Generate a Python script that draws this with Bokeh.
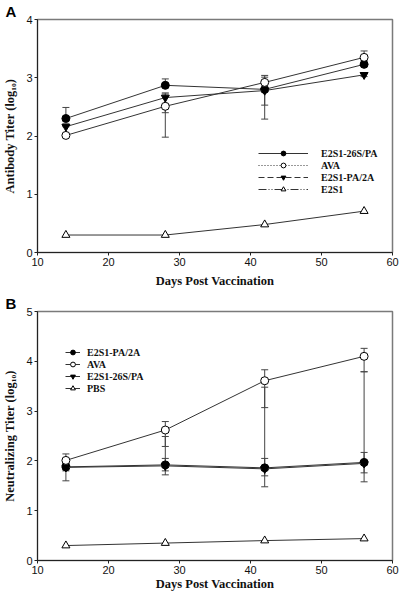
from bokeh.plotting import figure
from bokeh.layouts import column
from bokeh.models import (Whisker, ColumnDataSource, Legend, LegendItem,
                          TeeHead, FixedTicker, Range1d)
from bokeh.embed import file_html
from bokeh.resources import INLINE

days = [14, 28, 42, 56]

# ---- Panel A : antibody titer ----
a_names = ["E2S1-26S/PA", "AVA", "E2S1-PA/2A", "E2S1"]
a_26s = [2.30, 2.87, 2.80, 3.23]
a_26s_lo = [2.30, 2.87, 2.53, 3.23]
a_26s_hi = [2.49, 2.98, 3.01, 3.23]
a_ava = [2.01, 2.51, 2.92, 3.35]
a_ava_lo = [1.98, 1.98, 2.80, 3.30]
a_ava_hi = [2.03, 2.72, 3.04, 3.46]
a_pa2a = [2.16, 2.66, 2.78, 3.05]
a_pa2a_lo = [2.16, 2.40, 2.29, 3.02]
a_pa2a_hi = [2.21, 2.74, 2.80, 3.08]
a_e2s1 = [0.30, 0.30, 0.48, 0.71]

# ---- Panel B : neutralizing titer ----
b_names = ["E2S1-PA/2A", "AVA", "E2S1-26S/PA", "PBS"]
b_pa2a = [1.88, 1.92, 1.86, 1.97]
b_pa2a_lo = [1.60, 1.72, 1.48, 1.58]
b_pa2a_hi = [2.02, 2.05, 2.05, 2.17]
b_ava = [2.01, 2.62, 3.61, 4.10]
b_ava_lo = [1.95, 2.29, 3.07, 3.79]
b_ava_hi = [2.14, 2.79, 3.83, 4.26]
b_26s = [1.87, 1.90, 1.84, 1.95]
b_26s_lo = [1.80, 1.80, 1.70, 1.76]
b_26s_hi = [1.95, 2.49, 3.48, 3.79]
b_pbs = [0.30, 0.35, 0.40, 0.44]

x_ticks = [10, 20, 30, 40, 50, 60]

SERIF = "Liberation Serif"
SANS = "Liberation Sans"
LINE = "#333333"
AX = "#222222"
W = 400
BL, BR = 32, 8


def make_fig(height, ymax, ylabel, letter, border_bottom, label_standoff):
    p = figure(width=W, height=height, output_backend="svg", toolbar_location=None,
               x_range=Range1d(10, 60), y_range=Range1d(0, ymax),
               min_border_left=BL, min_border_right=BR,
               min_border_top=0, min_border_bottom=border_bottom,
               title=letter)
    p.title.text_font = SANS
    p.title.text_font_style = "bold"
    p.title.text_font_size = "15px"
    p.title.text_color = "black"
    p.title.align = "left"
    p.title.offset = -BL
    p.title.standoff = 0
    p.xgrid.visible = False
    p.ygrid.visible = False
    p.outline_line_color = "#7a7a7a"
    p.outline_line_width = 1.5
    p.xaxis.ticker = FixedTicker(ticks=x_ticks)
    p.yaxis.ticker = FixedTicker(ticks=list(range(0, ymax + 1)))
    for ax in (p.xaxis, p.yaxis):
        ax.axis_line_color = AX
        ax.major_tick_line_color = AX
        ax.major_tick_out = 3
        ax.major_tick_in = 0
        ax.minor_tick_line_color = None
        ax.major_label_text_font = SANS
        ax.major_label_text_font_size = "11px"
        ax.major_label_text_color = "#111111"
        ax.axis_label_text_font = SERIF
        ax.axis_label_text_font_style = "bold"
        ax.axis_label_text_font_size = "12.5px"
        ax.axis_label_text_color = "#111111"
        ax.major_label_standoff = 2
    p.xaxis.axis_label = "Days Post Vaccination"
    p.xaxis.axis_label_standoff = label_standoff
    p.yaxis.axis_label = ylabel
    p.yaxis.axis_label_standoff = 6
    return p


def add_series(p, y, lo, hi, marker, fill):
    src = ColumnDataSource(dict(x=days, y=y, lo=lo if lo else y, hi=hi if hi else y))
    p.line("x", "y", source=src, line_color=LINE, line_width=1)
    if lo is not None:
        w = Whisker(base="x", lower="lo", upper="hi", source=src, line_color="#444444",
                    line_width=1,
                    upper_head=TeeHead(size=7, line_color="#444444", line_width=1),
                    lower_head=TeeHead(size=7, line_color="#444444", line_width=1))
        p.add_layout(w)
    r = p.scatter("x", "y", source=src, marker=marker, size=8, fill_color=fill,
                  line_color="black", line_width=1)
    return r


def nan_line(p, dash):
    return p.line([float("nan")], [float("nan")], line_color=LINE, line_width=1, line_dash=dash)


def style_legend(lg, glyph_w, standoff):
    lg.glyph_width = glyph_w
    lg.glyph_height = 12
    lg.label_height = 12
    lg.label_standoff = standoff
    lg.label_text_font = SERIF
    lg.label_text_font_style = "bold"
    lg.label_text_font_size = "10px"
    lg.label_text_color = "#111111"
    lg.spacing = 0
    lg.padding = 0
    lg.margin = 0
    lg.border_line_alpha = 0
    lg.background_fill_alpha = 0


# ---------- Figure A ----------
pa = make_fig(292, 4, "Antibody Titer (log\u2081\u2080)", "A", 40, 5)
ra1 = add_series(pa, a_26s, a_26s_lo, a_26s_hi, "circle", "black")
ra2 = add_series(pa, a_ava, a_ava_lo, a_ava_hi, "circle", "white")
ra3 = add_series(pa, a_pa2a, a_pa2a_lo, a_pa2a_hi, "inverted_triangle", "black")
ra4 = add_series(pa, a_e2s1, None, None, "triangle", "white")
la = Legend(items=[
    LegendItem(label=a_names[0], renderers=[nan_line(pa, "solid"), ra1]),
    LegendItem(label=a_names[1], renderers=[nan_line(pa, "1 2"), ra2]),
    LegendItem(label=a_names[2], renderers=[nan_line(pa, "6 3"), ra3]),
    LegendItem(label=a_names[3], renderers=[nan_line(pa, "8 2 1 2 1 2"), ra4]),
], location=(221, 57))
style_legend(la, 50, 13)
pa.add_layout(la)

# ---------- Figure B ----------
pb = make_fig(301, 5, "Neutralizing Titer (log\u2081\u2080)", "B", 31, 0)
rb1 = add_series(pb, b_pa2a, b_pa2a_lo, b_pa2a_hi, "circle", "black")
rb3 = add_series(pb, b_26s, b_26s_lo, b_26s_hi, "inverted_triangle", "black")
rb2 = add_series(pb, b_ava, b_ava_lo, b_ava_hi, "circle", "white")
rb4 = add_series(pb, b_pbs, None, None, "triangle", "white")
lb = Legend(items=[
    LegendItem(label=b_names[0], renderers=[nan_line(pb, "solid"), rb1]),
    LegendItem(label=b_names[1], renderers=[nan_line(pb, "solid"), rb2]),
    LegendItem(label=b_names[2], renderers=[nan_line(pb, "solid"), rb3]),
    LegendItem(label=b_names[3], renderers=[nan_line(pb, "solid"), rb4]),
], location=(28, 166))
style_legend(lb, 15, 7)
pb.add_layout(lb)

layout = column(pa, pb, spacing=0)
open("out.html", "w").write(file_html(layout, INLINE))
